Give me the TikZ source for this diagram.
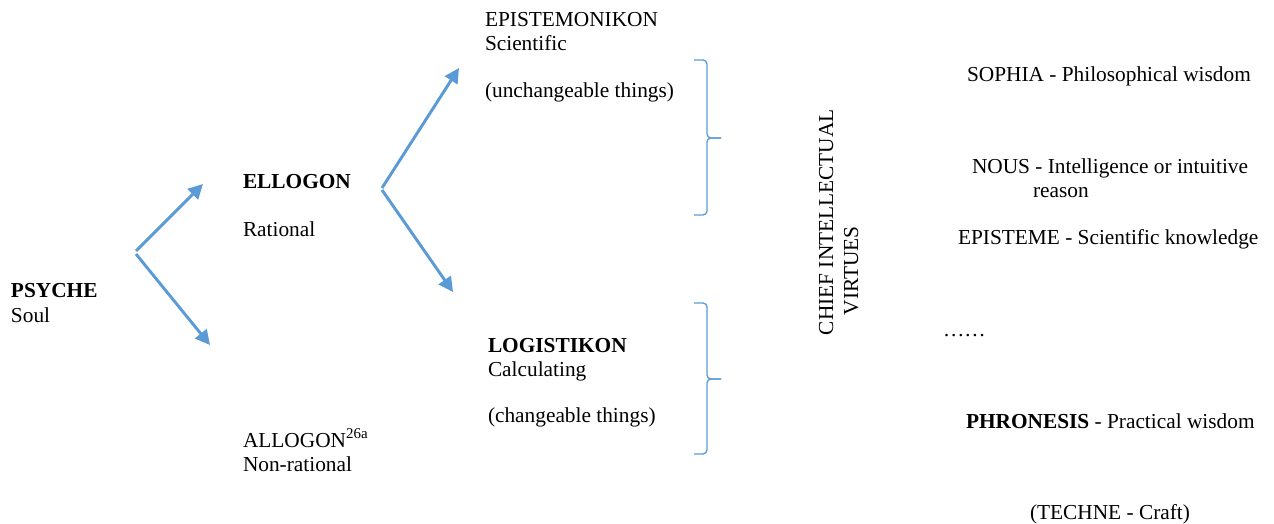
\documentclass[tikz,border=0pt]{standalone}
\usepackage{fontspec}
\setmainfont{Liberation Serif}
\usetikzlibrary{arrows.meta}

\definecolor{arrowblue}{HTML}{5B9BD5}

\begin{document}
\begin{tikzpicture}[x=0.75pt, y=-0.75pt,
    every node/.style={inner sep=0pt, outer sep=0pt, font=\fontsize{16}{18.75}\selectfont},
    txt/.style={anchor=base west},
    branch/.style={draw=arrowblue, line width=2.2pt, -{Triangle[length=11pt,width=11pt]}},
    bracket/.style={draw=arrowblue, line width=1pt, rounded corners=3pt}]
  \useasboundingbox (0,0) rectangle (1274,524);

  % the soul and its two parts
  \node[txt] (psyche) at (11,297) {\textbf{PSYCHE}};
  \node[txt] (soul) at (11,322) {Soul};
  \node[txt] (ellogon) at (243,189) {\textbf{ELLOGON}};
  \node[txt] (rational) at (243,236) {Rational};
  \node[txt] (allogon) at (243,447) {ALLOGON\textsuperscript{26a}};
  \node[txt] (nonrational) at (243,471) {Non-rational};

  % parts of the rational soul
  \node[txt] (epistemonikon) at (485,27) {EPISTEMONIKON};
  \node[txt] (scientific) at (485,51) {Scientific};
  \node[txt] (unchangeable) at (485,98) {(unchangeable things)};
  \node[txt] (logistikon) at (488,352) {\textbf{LOGISTIKON}};
  \node[txt] (calculating) at (488,376) {Calculating};
  \node[txt] (changeable) at (488,422) {(changeable things)};

  % virtues
  \node[rotate=90, anchor=base west] (chief) at (833,335) {CHIEF INTELLECTUAL};
  \node[rotate=90, anchor=base west] (virtues) at (858,315) {VIRTUES};
  \node[txt] (sophia) at (967,82) {SOPHIA - Philosophical wisdom};
  \node[txt] (nous) at (972,174) {NOUS - Intelligence or intuitive};
  \node[txt] (reason) at (1033,197) {reason};
  \node[txt] (episteme) at (958,244) {EPISTEME - Scientific knowledge};
  \node[txt] (dots) at (943,336) {……};
  \node[txt] (phronesis) at (966,428) {\textbf{PHRONESIS} - Practical wisdom};
  \node[txt] (techne) at (1030,519) {(TECHNE - Craft)};

  % arrows
  \coordinate (fork1) at (136,251);
  \coordinate (fork1b) at (136,254);
  \coordinate (to ellogon) at (203,184);
  \coordinate (to allogon) at (210,345);
  \coordinate (fork2) at (382,188);
  \coordinate (fork2b) at (382,190);
  \coordinate (to epist) at (459,68);
  \coordinate (to logist) at (453,292);
  \draw[branch] (fork1) -- (to ellogon);
  \draw[branch] (fork1b) -- (to allogon);
  \draw[branch] (fork2) -- (to epist);
  \draw[branch] (fork2b) -- (to logist);

  % braces
  \coordinate (upper top) at (694,60);
  \coordinate (upper tip) at (721,138);
  \coordinate (upper bot) at (694,215);
  \coordinate (lower top) at (694,303);
  \coordinate (lower tip) at (721,379);
  \coordinate (lower bot) at (694,454);
  \draw[bracket] (upper top) -- ++(13,0) |- (upper tip);
  \draw[bracket] (upper bot) -- ++(13,0) |- (upper tip);
  \draw[bracket] (lower top) -- ++(13,0) |- (lower tip);
  \draw[bracket] (lower bot) -- ++(13,0) |- (lower tip);
\end{tikzpicture}
\end{document}
